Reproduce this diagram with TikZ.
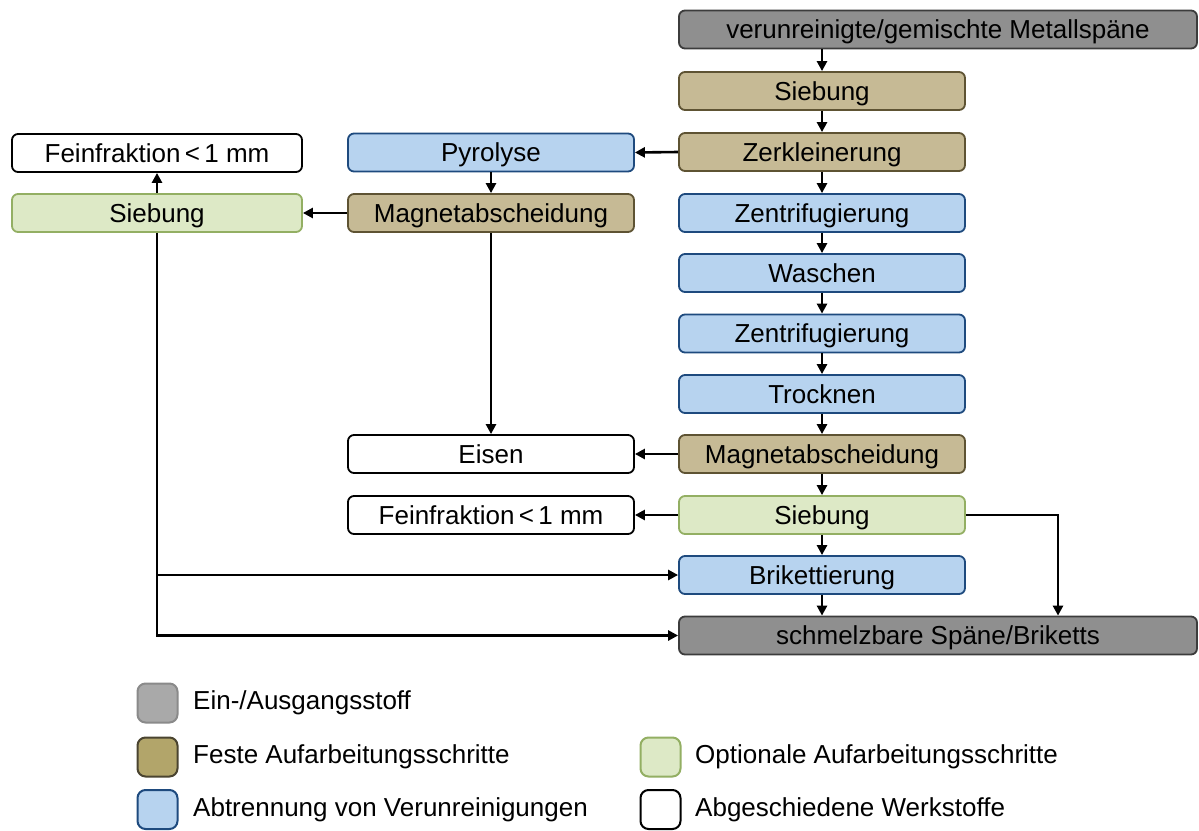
\documentclass[tikz,border=0pt]{standalone}
\usepackage{fontspec}
\setmainfont{Liberation Sans}
\usetikzlibrary{arrows.meta}
\definecolor{grayF}{HTML}{8F8F8F}
\definecolor{grayD}{HTML}{3C3C3C}
\definecolor{tanF}{HTML}{C6BA95}
\definecolor{tanD}{HTML}{5E5333}
\definecolor{blueF}{HTML}{B7D3EF}
\definecolor{blueD}{HTML}{1E4A7E}
\definecolor{greenF}{HTML}{DDE9C6}
\definecolor{greenD}{HTML}{93AF63}
\definecolor{lgrayF}{HTML}{A9A9A9}
\definecolor{lgrayD}{HTML}{8A8A8A}
\definecolor{ltanF}{HTML}{B2A56A}
\definecolor{ltanD}{HTML}{4A4430}
\begin{document}
\begin{tikzpicture}[x=1pt,y=-1pt,
  box/.style={draw, rounded corners=6pt, line width=1.8pt, minimum height=38pt,
    inner sep=0pt, text height=18.5pt, text depth=0pt,
    font=\fontsize{26}{30}\selectfont, anchor=center},
  main/.style={box, minimum width=286pt},
  wide/.style={box, minimum width=518pt},
  grayb/.style={fill=grayF, draw=grayD},
  tanb/.style={fill=tanF, draw=tanD},
  blueb/.style={fill=blueF, draw=blueD},
  greenb/.style={fill=greenF, draw=greenD},
  whiteb/.style={fill=white, draw=black},
  arr/.style={draw=black, line width=2.6pt, -{Triangle[length=10pt,width=10pt]}},
  leg/.style={draw, rounded corners=8pt, line width=2pt, minimum width=40pt, minimum height=39pt, inner sep=0pt},
  legtxt/.style={anchor=west, inner sep=0pt, font=\fontsize{26}{30}\selectfont}
]
\useasboundingbox (0,0) rectangle (1199,830);
\fill[white] (0,0) rectangle (1199,830);

% right column
\node[wide, grayb] (in) at (938,29.5) {verunreinigte/gemischte Metallspäne};
\node[main, tanb] (s1) at (822,91) {Siebung};
\node[main, tanb] (zk) at (822,152) {Zerkleinerung};
\node[main, blueb] (z1) at (822,213) {Zentrifugierung};
\node[main, blueb] (wa) at (822,273) {Waschen};
\node[main, blueb] (z2) at (822,333.5) {Zentrifugierung};
\node[main, blueb] (tr) at (822,394) {Trocknen};
\node[main, tanb] (m3) at (822,454) {Magnetabscheidung};
\node[main, greenb] (s3) at (822,515) {Siebung};
\node[main, blueb] (br) at (822,575) {Brikettierung};
\node[wide, grayb] (out) at (938,635.5) {schmelzbare Späne/Briketts};

% middle column
\node[main, blueb] (py) at (491,152.5) {Pyrolyse};
\node[main, tanb] (m2) at (491,213) {Magnetabscheidung};
\node[main, whiteb] (ei) at (491,454) {Eisen};
\node[main, whiteb] (f2) at (491,515) {Feinfraktion\,<\,1 mm};

% left column
\node[main, whiteb, minimum width=290pt] (f1) at (157,153) {Feinfraktion\,<\,1 mm};
\node[main, greenb, minimum width=290pt] (s2) at (157,213) {Siebung};

% connectors
\draw[arr] (s1.north |- in.south) -- (s1.north);
\draw[arr] (s1.south) -- (zk.north);
\draw[arr] (zk.south) -- (z1.north);
\draw[arr] (z1.south) -- (wa.north);
\draw[arr] (wa.south) -- (z2.north);
\draw[arr] (z2.south) -- (tr.north);
\draw[arr] (tr.south) -- (m3.north);
\draw[arr] (m3.south) -- (s3.north);
\draw[arr] (s3.south) -- (br.north);
\draw[arr] (br.south) -- (br.south |- out.north);

\draw[arr] (zk.west) -- (py.east);
\draw[arr] (py.south) -- (m2.north);
\draw[arr] (m2.west) -- (s2.east);
\draw[arr] (s2.north) -- (f1.south);
\draw[arr] (m2.south) -- (ei.north);
\draw[arr] (m3.west) -- (ei.east);
\draw[arr] (s3.west) -- (f2.east);
\draw[arr] (s3.east) -| ([xshift=120pt]out.north);
\draw[arr] (s2.south) |- (out.west);
\draw[arr] (s2.south |- br.west) -- (br.west);

% legend
\node[leg, fill=lgrayF, draw=lgrayD] (l1) at (157.5,703) {};
\node[leg, fill=ltanF, draw=ltanD] (l2) at (157.5,757) {};
\node[leg, fill=blueF, draw=blueD] (l3) at (157.5,809.5) {};
\node[leg, fill=greenF, draw=greenD] (l4) at (660.5,757) {};
\node[leg, fill=white, draw=black] (l5) at (660.5,809.5) {};
\node[legtxt] (t1) at (193,703) {Ein-/Ausgangsstoff};
\node[legtxt] (t2) at (193,757) {Feste Aufarbeitungsschritte};
\node[legtxt] (t3) at (193,809.5) {Abtrennung von Verunreinigungen};
\node[legtxt] (t4) at (695,757) {Optionale Aufarbeitungsschritte};
\node[legtxt] (t5) at (695,809.5) {Abgeschiedene Werkstoffe};
\end{tikzpicture}
\end{document}
